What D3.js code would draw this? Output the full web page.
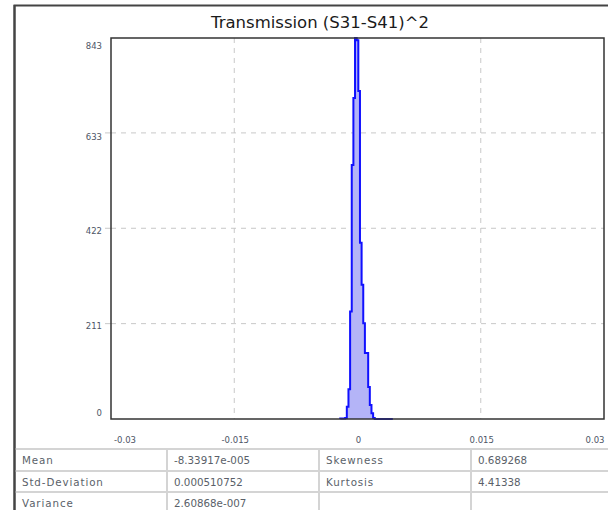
<!DOCTYPE html>
<html><head><meta charset="utf-8">
<script src="https://cdn.jsdelivr.net/npm/d3@7"></script>
<style>
html,body{margin:0;padding:0;background:#fff;}
svg{display:block;}
</style></head>
<body>
<svg id="chart" width="608" height="510"></svg>
<script>
// ---- data ----
const title = "Transmission (S31-S41)^2";
const binCenters = [-0.0020,-0.0018,-0.0016,-0.0014,-0.0012,-0.0010,-0.0008,-0.0006,-0.0004,-0.0002,0.0000,0.0002,0.0004,0.0006,0.0008,0.0010,0.0012,0.0014,0.0016,0.0018,0.0020,0.0022,0.0024,0.0026,0.0028,0.0030,0.0032,0.0034,0.0036,0.0038,0.0040,0.0042];
const binCounts  = [1,1,1,2,27,66,238,562,710,843,838,726,390,297,212,146,146,71,31,13,2,0,0,0,0,0,0,0,0,0,0,0];
const binWidth = 0.0002;
const xTicks = [-0.03,-0.015,0,0.015,0.03];
const xTickLabels = ["-0.03","-0.015","0","0.015","0.03"];
const yTicks = [0,211,422,633,843];
const yTickLabels = ["0","211","422","633","843"];
const statRows = [
  ["Mean","-8.33917e-005","Skewness","0.689268"],
  ["Std-Deviation","0.000510752","Kurtosis","4.41338"],
  ["Variance","2.60868e-007","",""]
];

// ---- layout ----
const svg = d3.select("#chart");
const plot = {left:111, right:604, top:38, bottom:419};
const x = d3.scaleLinear().domain([-0.03,0.03]).range([plot.left, plot.right]);
const y = d3.scaleLinear().domain([0,843]).range([plot.bottom, plot.top]);

// outer frame
svg.append("rect").attr("x",14.5).attr("y",5.5).attr("width",620).attr("height",540)
  .attr("fill","#fff").attr("stroke","#444").attr("stroke-width",2);

// title
svg.append("text").attr("x",320).attr("y",28).attr("text-anchor","middle")
  .attr("font-family","'DejaVu Sans', sans-serif").attr("font-size",16.5).attr("fill","#1a1a1a")
  .text(title);

// gridlines
const gridX = xTicks.filter(v => v > -0.03 && v < 0.03);
svg.append("g").selectAll("line").data(gridX).join("line")
  .attr("x1",d=>x(d)).attr("x2",d=>x(d)).attr("y1",plot.top).attr("y2",plot.bottom)
  .attr("stroke","#c8c8c8").attr("stroke-width",1).attr("stroke-dasharray","5,5");
const gridY = yTicks.filter(v => v > 0 && v < 843);
svg.append("g").selectAll("line").data(gridY).join("line")
  .attr("x1",plot.left).attr("x2",plot.right).attr("y1",d=>y(d)).attr("y2",d=>y(d))
  .attr("stroke","#c8c8c8").attr("stroke-width",1).attr("stroke-dasharray","5,5");
// small y tick marks outside
svg.append("g").selectAll("line").data(gridY).join("line")
  .attr("x1",plot.left-6).attr("x2",plot.left).attr("y1",d=>y(d)).attr("y2",d=>y(d))
  .attr("stroke","#c8c8c8").attr("stroke-width",1);

// histogram step path
const bins = binCenters.map((c,i)=>({x0:c-binWidth/2, x1:c+binWidth/2, n:binCounts[i]}));
const pts = [];
pts.push([x(bins[0].x0), y(0)]);
bins.forEach(b => { pts.push([x(b.x0), y(b.n)]); pts.push([x(b.x1), y(b.n)]); });
pts.push([x(bins[bins.length-1].x1), y(0)]);
const line = d3.line();
svg.append("path").attr("d", line(pts)+"Z").attr("fill","#b4b4f7").attr("stroke","none");
svg.append("path").attr("d", line(pts)).attr("fill","none").attr("stroke","#1010ff")
  .attr("stroke-width",2).attr("stroke-linejoin","miter");

// plot border
svg.append("rect").attr("x",plot.left).attr("y",plot.top)
  .attr("width",plot.right-plot.left).attr("height",plot.bottom-plot.top)
  .attr("fill","none").attr("stroke","#333").attr("stroke-width",1.5);

// y tick labels
const yLabelOffset = {0:-6, 211:3, 422:3, 633:5, 843:8};
svg.append("g").selectAll("text").data(yTicks).join("text")
  .attr("x",102).attr("y",d=>y(d)+yLabelOffset[d]).attr("text-anchor","end").attr("dominant-baseline","middle")
  .attr("font-family","'DejaVu Sans', sans-serif").attr("font-size",8.5).attr("fill","#4d5566")
  .text((d,i)=>yTickLabels[i]);

// x tick labels
const xLabelPos = v => v === -0.03 ? x(v)+14 : (v === 0.03 ? x(v)-9 : x(v)+1);
svg.append("g").selectAll("text").data(xTicks).join("text")
  .attr("x",d=>xLabelPos(d)).attr("y",440).attr("text-anchor","middle").attr("dominant-baseline","middle")
  .attr("font-family","'DejaVu Sans', sans-serif").attr("font-size",8.5).attr("fill","#4d5566")
  .text((d,i)=>xTickLabels[i]);

// stats table
const colX = [15,167,319,471,640];
const rowY = [449,471,492,513];
const tg = svg.append("g");
rowY.forEach(v => tg.append("line").attr("x1",15).attr("x2",640).attr("y1",v).attr("y2",v)
  .attr("stroke","#d4d4d4").attr("stroke-width",2));
colX.slice(1,4).forEach(v => tg.append("line").attr("x1",v).attr("x2",v).attr("y1",449).attr("y2",520)
  .attr("stroke","#d4d4d4").attr("stroke-width",2));
statRows.forEach((r,ri) => r.forEach((t,ci) => {
  const isLabel = ci % 2 === 0;
  tg.append("text").attr("x",colX[ci]+7).attr("y",(rowY[ri]+rowY[ri+1])/2+1)
    .attr("dominant-baseline","middle").attr("font-family","'DejaVu Sans', sans-serif")
    .attr("font-size",10.3).attr("letter-spacing", isLabel ? 0.9 : 0)
    .attr("fill","#5a5f69").text(t);
}));
// re-draw left frame edge over table
svg.append("line").attr("x1",14.5).attr("x2",14.5).attr("y1",5).attr("y2",510).attr("stroke","#444").attr("stroke-width",2);
</script>
</body></html>
